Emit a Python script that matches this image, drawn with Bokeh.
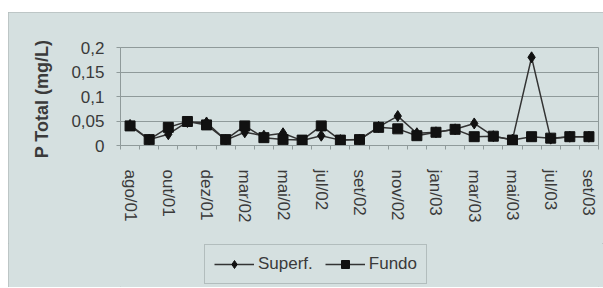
from bokeh.plotting import figure
from bokeh.models import (Range1d, FixedTicker, Legend, LegendItem, Spacer)
from bokeh.layouts import column, row
from bokeh.embed import file_html
from bokeh.resources import INLINE

months = ["ago/01", "set/01", "out/01", "nov/01", "dez/01", "jan/02", "mar/02",
          "abr/02", "mai/02", "jun/02", "jul/02", "ago/02", "set/02", "out/02",
          "nov/02", "dez/02", "jan/03", "fev/03", "mar/03", "abr/03", "mai/03",
          "jun/03", "jul/03", "ago/03", "set/03"]
superf = [0.042, 0.012, 0.023, 0.048, 0.047, 0.011, 0.027, 0.020, 0.025, 0.010,
          0.020, 0.011, 0.012, 0.038, 0.060, 0.025, 0.027, 0.033, 0.045, 0.019,
          0.012, 0.180, 0.014, 0.018, 0.018]
fundo = [0.040, 0.012, 0.037, 0.049, 0.042, 0.012, 0.040, 0.016, 0.012, 0.011,
         0.040, 0.011, 0.012, 0.037, 0.034, 0.020, 0.027, 0.033, 0.018, 0.019,
         0.011, 0.018, 0.015, 0.018, 0.018]
y_ticks = [0, 0.05, 0.1, 0.15, 0.2]
y_tick_labels = ["0", "0,05", "0,1", "0,15", "0,2"]
series_names = ["Superf.", "Fundo"]

BG = "#d5e0e0"
TXT = "#3a3a3a"
GRID = "#8f9a9a"
FONT = "Liberation Sans"
LINE = "#333333"
MARK = "#111111"

xs = list(range(len(months)))

p = figure(width=595, height=231, output_backend="svg", toolbar_location=None,
           x_range=Range1d(-0.5, len(months) - 0.5), y_range=Range1d(0, 0.2),
           min_border_left=112, min_border_right=5, min_border_top=35,
           min_border_bottom=98)
p.background_fill_color = BG
p.border_fill_color = BG
p.outline_line_color = GRID
p.outline_line_width = 1

p.line(xs, superf, line_color=LINE, line_width=1.5)
p.scatter(xs, superf, marker="diamond", size=11, fill_color=MARK, line_color=MARK)
p.line(xs, fundo, line_color=LINE, line_width=1.5)
p.scatter(xs, fundo, marker="square", size=10, fill_color=MARK, line_color=MARK)

# x axis
p.xaxis.ticker = FixedTicker(ticks=xs[::2],
                             minor_ticks=[i - 0.5 for i in range(len(months) + 1)])
p.xaxis.major_label_overrides = {i: months[i] for i in xs[::2]}
p.xaxis.major_label_orientation = "vertical"
p.xaxis.major_tick_out = 0
p.xaxis.major_tick_in = 0
p.xaxis.minor_tick_out = 4
p.xaxis.minor_tick_in = 0
p.xaxis.minor_tick_line_color = GRID
p.xaxis.axis_line_color = GRID
p.xaxis.major_label_standoff = 20
p.xaxis.major_label_text_font = FONT
p.xaxis.major_label_text_font_size = "17px"
p.xaxis.major_label_text_color = TXT
p.xgrid.grid_line_color = None

# y axis
p.yaxis.ticker = FixedTicker(ticks=y_ticks, minor_ticks=[])
p.yaxis.major_label_overrides = {t: l for t, l in zip(y_ticks, y_tick_labels)}
p.yaxis.major_tick_out = 4
p.yaxis.major_tick_in = 0
p.yaxis.major_tick_line_color = GRID
p.yaxis.axis_line_color = GRID
p.yaxis.major_label_standoff = 12
p.yaxis.major_label_text_font = FONT
p.yaxis.major_label_text_font_size = "17px"
p.yaxis.major_label_text_color = TXT
p.yaxis.axis_label = "P Total  (mg/L)"
p.yaxis.axis_label_text_font = FONT
p.yaxis.axis_label_text_font_size = "18px"
p.yaxis.axis_label_text_font_style = "bold"
p.yaxis.axis_label_text_color = TXT
p.yaxis.axis_label_standoff = 16
p.ygrid.grid_line_color = GRID
p.ygrid.grid_line_width = 1

# legend strip: same series, drawn outside this strip's visible range
lf = figure(width=595, height=44, output_backend="svg", toolbar_location=None,
            x_range=Range1d(-0.5, len(months) - 0.5), y_range=Range1d(10, 11),
            x_axis_location=None, y_axis_location=None,
            min_border_left=0, min_border_right=0, min_border_top=0,
            min_border_bottom=0)
lf.background_fill_color = BG
lf.border_fill_color = BG
lf.outline_line_color = None
lf.grid.grid_line_color = None
l1 = lf.line(xs, superf, line_color=LINE, line_width=1.5)
s1 = lf.scatter(xs, superf, marker="diamond", size=11, fill_color=MARK, line_color=MARK)
l2 = lf.line(xs, fundo, line_color=LINE, line_width=1.5)
s2 = lf.scatter(xs, fundo, marker="square", size=10, fill_color=MARK, line_color=MARK)

legend = Legend(items=[LegendItem(label=series_names[0], renderers=[l1, s1]),
                       LegendItem(label=series_names[1], renderers=[l2, s2])],
                orientation="horizontal", location=(84, 3))
legend.background_fill_color = BG
legend.background_fill_alpha = 1
legend.border_line_color = GRID
legend.label_text_font = FONT
legend.label_text_font_size = "17px"
legend.label_text_color = TXT
legend.glyph_width = 40
legend.glyph_height = 20
legend.label_standoff = 4
legend.spacing = 12
legend.padding = 9
legend.margin = 0
lf.add_layout(legend, "center")

chart = column(p, lf, styles={"background-color": BG,
                              "outline": "1px solid #b4bebe",
                              "outline-offset": "-1px"})
layout = column(Spacer(height=12, width=10),
                row(Spacer(width=8, height=10), chart))

open("out.html", "w").write(file_html(layout, INLINE))
